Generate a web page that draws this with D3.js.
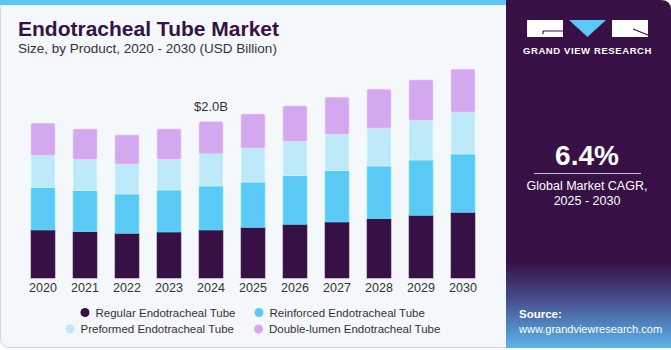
<!DOCTYPE html>
<html>
<head>
<meta charset="utf-8">
<script src="https://cdn.jsdelivr.net/npm/d3@7"></script>
<style>
  body { margin: 0; background: #fff; }
  text { font-family: "Liberation Sans", Arial, sans-serif; }
</style>
</head>
<body>
<div id="chart"></div>
<script>
// data (USD billion)
const years = ["2020","2021","2022","2023","2024","2025","2026","2027","2028","2029","2030"];
const regular     = [0.614, 0.592, 0.572, 0.588, 0.614, 0.648, 0.687, 0.716, 0.758, 0.802, 0.840];
const reinforced  = [0.546, 0.529, 0.503, 0.537, 0.563, 0.579, 0.622, 0.656, 0.674, 0.707, 0.746];
const preformed   = [0.409, 0.396, 0.384, 0.393, 0.413, 0.435, 0.440, 0.465, 0.486, 0.508, 0.537];
const doubleLumen = [0.409, 0.387, 0.371, 0.387, 0.409, 0.435, 0.451, 0.473, 0.495, 0.515, 0.546];
const seriesNames = ["Regular Endotracheal Tube", "Reinforced Endotracheal Tube",
                     "Preformed Endotracheal Tube", "Double-lumen Endotracheal Tube"];
const seriesKeys = ["regular", "reinforced", "preformed", "doubleLumen"];
const colors = ["#371146", "#5bc9f6", "#bde9f9", "#d4a8ee"];
const labelYear = "2024", labelText = "$2.0B";

const W = 671, H = 350;
const svg = d3.select("#chart").append("svg")
  .attr("width", W).attr("height", H);

// card background
svg.append("rect").attr("x", 0.5).attr("y", 0.5).attr("width", W - 1).attr("height", 347)
  .attr("rx", 8).attr("fill", "#f4f8fb").attr("stroke", "#d3d6da");
svg.append("rect").attr("x", 0).attr("y", 0).attr("width", 506).attr("height", 5).attr("fill", "#5bc8f5");

// right panel
const defs = svg.append("defs");
const clip = defs.append("clipPath").attr("id", "panelClip");
clip.append("path").attr("d", "M506,0 H661 Q671,0 671,10 V348 H506 Z");
const grad = defs.append("linearGradient").attr("id", "srcGrad")
  .attr("x1", 0).attr("y1", 0).attr("x2", 0).attr("y2", 1);
grad.append("stop").attr("offset", "0%").attr("stop-color", "#371146");
grad.append("stop").attr("offset", "45%").attr("stop-color", "#47508f");
grad.append("stop").attr("offset", "100%").attr("stop-color", "#59b7ea");

const panel = svg.append("g").attr("clip-path", "url(#panelClip)");
panel.append("rect").attr("x", 506).attr("y", 0).attr("width", 165).attr("height", 348).attr("fill", "#371146");
panel.append("rect").attr("x", 506).attr("y", 262).attr("width", 165).attr("height", 86).attr("fill", "url(#srcGrad)");

// logo
const logo = svg.append("g");
logo.append("rect").attr("x", 527).attr("y", 20).attr("width", 36).attr("height", 17).attr("fill", "#fff");
logo.append("path").attr("d", "M543,31 H563 M543,31 V34").attr("stroke", "#371146").attr("stroke-width", 1.2).attr("fill", "none");
logo.append("path").attr("d", "M569,20 H606 L587.5,37 Z").attr("fill", "#5bc8f5");
logo.append("rect").attr("x", 612).attr("y", 20).attr("width", 36).attr("height", 17).attr("fill", "#fff");
logo.append("path").attr("d", "M633,29 L648,35").attr("stroke", "#371146").attr("stroke-width", 1.2);
logo.append("text").attr("x", 587.5).attr("y", 54).attr("text-anchor", "middle")
  .attr("font-size", 9.5).attr("font-weight", "bold").attr("fill", "#fff")
  .attr("letter-spacing", 0.6).text("GRAND VIEW RESEARCH");

// CAGR
svg.append("text").attr("x", 587).attr("y", 165).attr("text-anchor", "middle")
  .attr("font-size", 28).attr("font-weight", "bold").attr("fill", "#fff").text("6.4%");
svg.append("line").attr("x1", 534).attr("x2", 641).attr("y1", 173.5).attr("y2", 173.5)
  .attr("stroke", "#c9bfd3").attr("stroke-width", 1);
svg.append("text").attr("x", 587).attr("y", 190).attr("text-anchor", "middle")
  .attr("font-size", 12.5).attr("fill", "#fff").text("Global Market CAGR,");
svg.append("text").attr("x", 587).attr("y", 205).attr("text-anchor", "middle")
  .attr("font-size", 12.5).attr("fill", "#fff").text("2025 - 2030");

// source
svg.append("text").attr("x", 519).attr("y", 318).attr("font-size", 11.5).attr("font-weight", "bold")
  .attr("fill", "#fff").text("Source:");
svg.append("text").attr("x", 519).attr("y", 333).attr("font-size", 11)
  .attr("fill", "#fff").text("www.grandviewresearch.com");

// titles
svg.append("text").attr("x", 18).attr("y", 36).attr("font-size", 21).attr("font-weight", "900")
  .attr("fill", "#371146").text("Endotracheal Tube Market");
svg.append("text").attr("x", 18).attr("y", 53).attr("font-size", 13.5)
  .attr("fill", "#333").text("Size, by Product, 2020 - 2030 (USD Billion)");

// stacked bars
const rows = years.map((y, i) => ({
  year: y, regular: regular[i], reinforced: reinforced[i],
  preformed: preformed[i], doubleLumen: doubleLumen[i]
}));
const stack = d3.stack().keys(seriesKeys)(rows);

const x = d3.scaleBand().domain(years).range([22, 484])
  .paddingInner(0.43).paddingOuter(0.215);
const y = d3.scaleLinear().domain([0, 2.6]).range([278, 278 - 2.6 * 78.2]);

const bars = svg.append("g");
stack.forEach((layer, li) => {
  bars.append("g").selectAll("rect").data(layer).join("rect")
    .attr("x", d => x(d.data.year))
    .attr("y", d => y(d[1]))
    .attr("width", x.bandwidth())
    .attr("height", d => y(d[0]) - y(d[1]))
    .attr("fill", colors[li])
    .attr("stroke", d3.color(colors[li]).brighter(0.4))
    .attr("stroke-width", 0.6)
    .attr("rx", li === 3 ? 1.5 : 0);
});

// value label
const labelTotal = d3.sum(stack, s => s[years.indexOf(labelYear)][1] - s[years.indexOf(labelYear)][0]);
svg.append("text")
  .attr("x", x(labelYear) + x.bandwidth() / 2)
  .attr("y", y(labelTotal) - 11)
  .attr("text-anchor", "middle").attr("font-size", 13).attr("fill", "#333")
  .text(labelText);

// x axis
const xAxis = svg.append("g").attr("transform", "translate(0,278)")
  .call(d3.axisBottom(x).tickSize(0).tickPadding(5));
xAxis.select(".domain").remove();
xAxis.selectAll("text").attr("font-size", 12.5).attr("fill", "#333")
  .attr("font-family", "Liberation Sans, Arial, sans-serif");

// legend
const legendPos = [[85, 312.5], [259, 312.5], [70, 329], [258.5, 329]];
const legend = svg.append("g");
seriesNames.forEach((name, i) => {
  const [cx, cy] = legendPos[i];
  legend.append("circle").attr("cx", cx).attr("cy", cy).attr("r", 4.5).attr("fill", colors[i]);
  legend.append("text").attr("x", cx + 10.5).attr("y", cy + 4.3)
    .attr("font-size", 11.5).attr("fill", "#333").text(name);
});
</script>
</body>
</html>
